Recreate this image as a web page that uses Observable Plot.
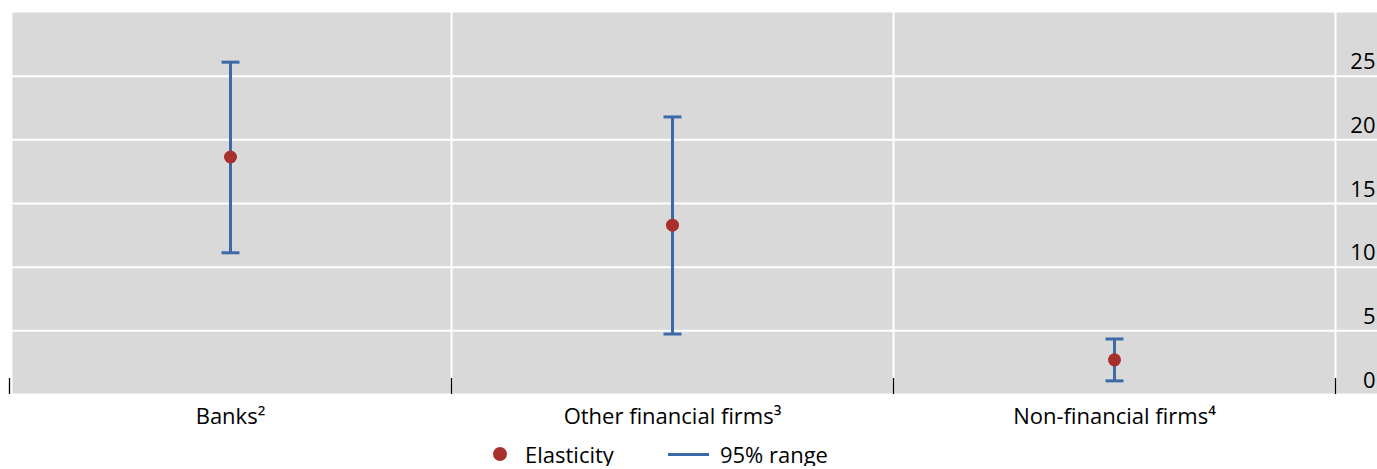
<!DOCTYPE html>
<html><head><meta charset="utf-8">
<script src="https://cdn.jsdelivr.net/npm/d3@7"></script>
<script src="https://cdn.jsdelivr.net/npm/@observablehq/plot@0.6"></script>
<style>
body{margin:0;background:#fff;font-family:"Open Sans",sans-serif;}
#legend{display:flex;justify-content:center;align-items:center;padding-top:6px;height:24px;line-height:24px;font-size:22px;color:#000;padding-right:56px;white-space:nowrap;}
#legend .dot{display:inline-block;width:14px;height:14px;border-radius:50%;background:#a8302c;margin-right:18px;}
#legend .line{display:inline-block;width:41px;height:3px;background:#3c6aa9;margin-left:54px;margin-right:11px;}
</style></head><body><div id="chart"></div><div id="legend"></div>
<script>
const categories = ["Banks²", "Other financial firms³", "Non-financial firms⁴"];
const elasticity = [18.65, 13.3, 2.72];
const lower = [11.13, 4.75, 1.07];
const upper = [26.1, 21.8, 4.36];
const yTicks = [0, 5, 10, 15, 20, 25];

const data = categories.map((c, i) => ({pos: i + 0.5, cat: c, e: elasticity[i], lo: lower[i], hi: upper[i]}));
const edges = d3.range(categories.length + 1);
const blue = "#3c6aa9", red = "#a8302c";
const capSymbol = {draw(ctx, size) { const r = Math.sqrt(size / Math.PI); ctx.moveTo(-r, 0); ctx.lineTo(r, 0); }};

const chart = Plot.plot({
  width: 1377, height: 436,
  marginTop: 12, marginBottom: 42, marginLeft: 12, marginRight: 0,
  style: {fontFamily: "'Open Sans', sans-serif", fontSize: "22px", color: "#000", background: "#fff"},
  x: {domain: [0, categories.length], range: [9, 1335], label: null},
  y: {domain: [0, 30], label: null},
  marks: [
    Plot.frame({fill: "#d9d9d9", stroke: "none"}),
    Plot.gridY(yTicks, {stroke: "#fff", strokeOpacity: 1, strokeWidth: 2}),
    Plot.gridX(edges.slice(1), {stroke: "#fff", strokeOpacity: 1, strokeWidth: 2}),
    Plot.axisY(yTicks, {anchor: "right", label: null, tickSize: 0, tickPadding: 0, dx: -2, dy: -14, textAnchor: "end", fontSize: 22}),
    Plot.axisX(edges, {anchor: "bottom", label: null, tickSize: -16, tickFormat: () => "", stroke: "#000", strokeWidth: 1.3}),
    Plot.axisX(data.map(d => d.pos), {anchor: "bottom", label: null, tickSize: 0, tickPadding: 14, tickFormat: p => categories[Math.floor(p)], fontSize: 22}),
    Plot.ruleX(data, {x: "pos", y1: "lo", y2: "hi", stroke: blue, strokeWidth: 3}),
    Plot.dot(data, {x: "pos", y: "hi", symbol: capSymbol, r: 9, stroke: blue, strokeWidth: 3}),
    Plot.dot(data, {x: "pos", y: "lo", symbol: capSymbol, r: 9, stroke: blue, strokeWidth: 3}),
    Plot.dot(data, {x: "pos", y: "e", r: 6.5, fill: red, stroke: "none"})
  ]
});
document.getElementById("chart").append(chart);
document.getElementById("legend").innerHTML =
  '<span class="dot"></span><span>Elasticity</span><span class="line"></span><span>95% range</span>';
</script>
</body></html>
